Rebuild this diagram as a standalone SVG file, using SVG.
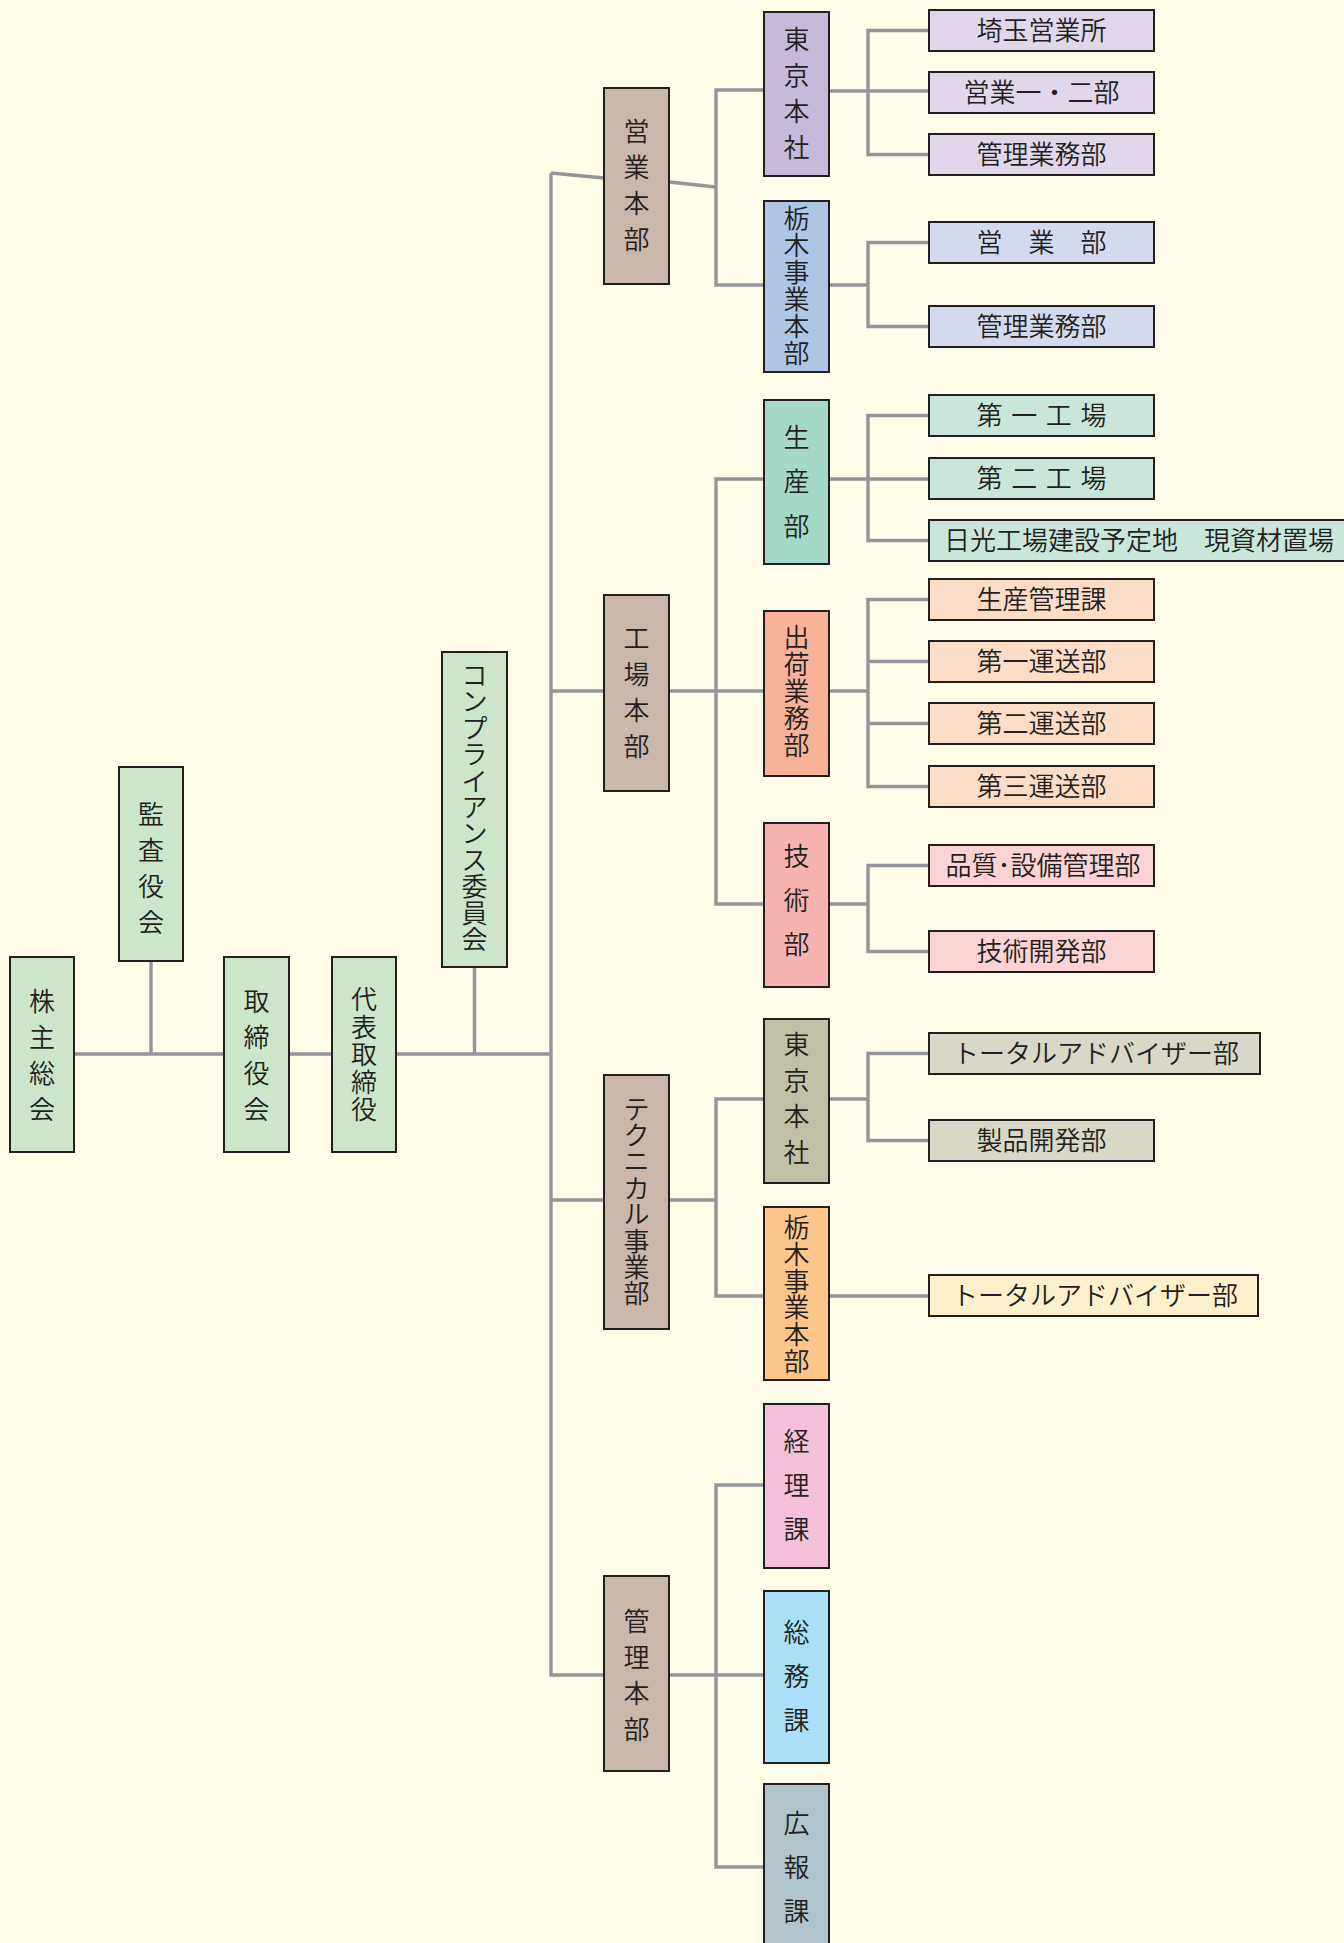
<svg xmlns="http://www.w3.org/2000/svg" width="1344" height="1943" viewBox="0 0 1344 1943">
<style>
.bg{fill:#FFFCEA}
rect.n{stroke:#231F20;stroke-width:2}
.c path{fill:none;stroke:#939598;stroke-width:3.4}
text{font-family:"Noto Sans CJK JP","Noto Sans CJK SC",sans-serif;font-size:26px;font-weight:350;fill:#231F20;dominant-baseline:central}
.v{text-anchor:middle}
.h{text-anchor:middle}
.green{fill:#CDE6CB}.brown{fill:#C9B7AB}
.pur{fill:#C6B9DA}.purL{fill:#E1D6EA}
.blu{fill:#AFC5E6}.bluL{fill:#D4DAEE}
.tea{fill:#A6D8C8}.teaL{fill:#CAE6DB}
.sal{fill:#F8B298}.salL{fill:#FBDCC6}
.pnk{fill:#F7B3B2}.pnkL{fill:#FBD3D5}
.kha{fill:#C2BFA9}.khaL{fill:#D9D7C8}
.org{fill:#FCC68A}.orgL{fill:#FEF0CB}
.kei{fill:#F5C1DA}.som{fill:#A9DFF7}.koh{fill:#B1C3CB}
</style>
<rect class="bg" x="0" y="0" width="1344" height="1943"/>
<g id="connectors" class="c">
<path d="M74 1054H551"/>
<path d="M151 961V1054"/>
<path d="M474.5 967V1054"/>
<path d="M551 173V1675H604"/>
<path d="M551 173L604 178"/>
<path d="M669 182L716 187"/>
<path d="M551 691H604"/>
<path d="M551 1200H604"/>
<path d="M764 90H716V285H764"/>
<path d="M669 691H764"/>
<path d="M764 479H716V904H764"/>
<path d="M669 1200H716"/>
<path d="M764 1099H716V1296H764"/>
<path d="M669 1675H764"/>
<path d="M764 1485H716V1867H764"/>
<path d="M829 91H929"/>
<path d="M929 30.5H868V154.5H929"/>
<path d="M829 285H868"/>
<path d="M929 242.5H868V326.5H929"/>
<path d="M829 479H929"/>
<path d="M929 415.5H868V540.5H929"/>
<path d="M829 691H868"/>
<path d="M929 599.5H868V786.5H929"/>
<path d="M868 661.5H929"/>
<path d="M868 723.5H929"/>
<path d="M829 904H868"/>
<path d="M929 865.5H868V951.5H929"/>
<path d="M829 1099H868"/>
<path d="M929 1053.5H868V1140.5H929"/>
<path d="M829 1296H929"/>
</g>
<g id="n-kabunushi"><rect class="n green" x="10" y="957" width="64" height="195"/><text class="v"><tspan x="42" y="999">株</tspan><tspan x="42" y="1035">主</tspan><tspan x="42" y="1071">総</tspan><tspan x="42" y="1107">会</tspan></text></g>
<g id="n-kansa"><rect class="n green" x="119" y="767" width="64" height="194"/><text class="v"><tspan x="151" y="812">監</tspan><tspan x="151" y="848">査</tspan><tspan x="151" y="884">役</tspan><tspan x="151" y="920">会</tspan></text></g>
<g id="n-torishimariyakukai"><rect class="n green" x="224" y="957" width="65" height="195"/><text class="v"><tspan x="256.5" y="999">取</tspan><tspan x="256.5" y="1035">締</tspan><tspan x="256.5" y="1071">役</tspan><tspan x="256.5" y="1107">会</tspan></text></g>
<g id="n-daihyo"><rect class="n green" x="332" y="957" width="64" height="195"/><text class="v"><tspan x="364" y="997">代</tspan><tspan x="364" y="1024.5">表</tspan><tspan x="364" y="1052">取</tspan><tspan x="364" y="1079.5">締</tspan><tspan x="364" y="1107">役</tspan></text></g>
<g id="n-compliance"><rect class="n green" x="442" y="652" width="65" height="315"/><text class="v"><tspan x="474.5" y="673">コ</tspan><tspan x="474.5" y="699.4">ン</tspan><tspan x="474.5" y="725.8">プ</tspan><tspan x="474.5" y="752.2">ラ</tspan><tspan x="474.5" y="778.6">イ</tspan><tspan x="474.5" y="805">ア</tspan><tspan x="474.5" y="831.4">ン</tspan><tspan x="474.5" y="857.8">ス</tspan><tspan x="474.5" y="884.2">委</tspan><tspan x="474.5" y="910.6">員</tspan><tspan x="474.5" y="937">会</tspan></text></g>
<g id="n-eigyohonbu"><rect class="n brown" x="604" y="88" width="65" height="196"/><text class="v"><tspan x="636.5" y="129">営</tspan><tspan x="636.5" y="165">業</tspan><tspan x="636.5" y="201">本</tspan><tspan x="636.5" y="237">部</tspan></text></g>
<g id="n-kojohonbu"><rect class="n brown" x="604" y="595" width="65" height="196"/><text class="v"><tspan x="636.5" y="636">工</tspan><tspan x="636.5" y="672">場</tspan><tspan x="636.5" y="708">本</tspan><tspan x="636.5" y="744">部</tspan></text></g>
<g id="n-technical"><rect class="n brown" x="604" y="1075" width="65" height="254"/><text class="v"><tspan x="636.5" y="1106.6">テ</tspan><tspan x="636.5" y="1133">ク</tspan><tspan x="636.5" y="1159.4">ニ</tspan><tspan x="636.5" y="1185.8">カ</tspan><tspan x="636.5" y="1212.2">ル</tspan><tspan x="636.5" y="1238.6">事</tspan><tspan x="636.5" y="1265">業</tspan><tspan x="636.5" y="1291.4">部</tspan></text></g>
<g id="n-kanrihonbu"><rect class="n brown" x="604" y="1576" width="65" height="195"/><text class="v"><tspan x="636.5" y="1619">管</tspan><tspan x="636.5" y="1655">理</tspan><tspan x="636.5" y="1691">本</tspan><tspan x="636.5" y="1727">部</tspan></text></g>
<g id="n-tokyo1"><rect class="n pur" x="764" y="12" width="65" height="164"/><text class="v"><tspan x="796.5" y="37">東</tspan><tspan x="796.5" y="73">京</tspan><tspan x="796.5" y="109">本</tspan><tspan x="796.5" y="145">社</tspan></text></g>
<g id="n-tochigi1"><rect class="n blu" x="764" y="201" width="65" height="171"/><text class="v"><tspan x="796.5" y="215.5">栃</tspan><tspan x="796.5" y="242.5">木</tspan><tspan x="796.5" y="269.5">事</tspan><tspan x="796.5" y="296.5">業</tspan><tspan x="796.5" y="323.5">本</tspan><tspan x="796.5" y="350.5">部</tspan></text></g>
<g id="n-seisan"><rect class="n tea" x="764" y="400" width="65" height="164"/><text class="v"><tspan x="796.5" y="434.5">生</tspan><tspan x="796.5" y="479">産</tspan><tspan x="796.5" y="523.5">部</tspan></text></g>
<g id="n-shukka"><rect class="n sal" x="764" y="611" width="65" height="165"/><text class="v"><tspan x="796.5" y="635.4">出</tspan><tspan x="796.5" y="662.2">荷</tspan><tspan x="796.5" y="689">業</tspan><tspan x="796.5" y="715.8">務</tspan><tspan x="796.5" y="742.6">部</tspan></text></g>
<g id="n-gijutsu"><rect class="n pnk" x="764" y="823" width="65" height="164"/><text class="v"><tspan x="796.5" y="854">技</tspan><tspan x="796.5" y="898">術</tspan><tspan x="796.5" y="942">部</tspan></text></g>
<g id="n-tokyo2"><rect class="n kha" x="764" y="1019" width="65" height="164"/><text class="v"><tspan x="796.5" y="1042">東</tspan><tspan x="796.5" y="1078">京</tspan><tspan x="796.5" y="1114">本</tspan><tspan x="796.5" y="1150">社</tspan></text></g>
<g id="n-tochigi2"><rect class="n org" x="764" y="1207" width="65" height="173"/><text class="v"><tspan x="796.5" y="1225">栃</tspan><tspan x="796.5" y="1251.8">木</tspan><tspan x="796.5" y="1278.6">事</tspan><tspan x="796.5" y="1305.4">業</tspan><tspan x="796.5" y="1332.2">本</tspan><tspan x="796.5" y="1359">部</tspan></text></g>
<g id="n-keiri"><rect class="n kei" x="764" y="1404" width="65" height="164"/><text class="v"><tspan x="796.5" y="1439">経</tspan><tspan x="796.5" y="1483">理</tspan><tspan x="796.5" y="1527">課</tspan></text></g>
<g id="n-somu"><rect class="n som" x="764" y="1591" width="65" height="172"/><text class="v"><tspan x="796.5" y="1630">総</tspan><tspan x="796.5" y="1674">務</tspan><tspan x="796.5" y="1718">課</tspan></text></g>
<g id="n-koho"><rect class="n koh" x="764" y="1784" width="65" height="175"/><text class="v"><tspan x="796.5" y="1821">広</tspan><tspan x="796.5" y="1865">報</tspan><tspan x="796.5" y="1909">課</tspan></text></g>
<g id="n-saitama"><rect class="n purL" x="929" y="10" width="225" height="41"/><text class="h" x="1041.5" y="28">埼玉営業所</text></g>
<g id="n-eigyo12"><rect class="n purL" x="929" y="72" width="225" height="41"/><text class="h" x="1041.5" y="90">営業一・二部</text></g>
<g id="n-kanrigyomu1"><rect class="n purL" x="929" y="134" width="225" height="41"/><text class="h" x="1041.5" y="152">管理業務部</text></g>
<g id="n-eigyobu"><rect class="n bluL" x="929" y="222" width="225" height="41"/><text class="h" x="1041.5" y="240">営　業　部</text></g>
<g id="n-kanrigyomu2"><rect class="n bluL" x="929" y="306" width="225" height="41"/><text class="h" x="1041.5" y="324">管理業務部</text></g>
<g id="n-daiichikojo"><rect class="n teaL" x="929" y="395" width="225" height="41"/><text class="h" x="1041.5" y="413" textLength="130" lengthAdjust="spacing">第 一 工 場</text></g>
<g id="n-dainikojo"><rect class="n teaL" x="929" y="458" width="225" height="41"/><text class="h" x="1041.5" y="476" textLength="130" lengthAdjust="spacing">第 二 工 場</text></g>
<g id="n-nikko"><rect class="n teaL" x="929" y="520" width="430" height="41"/><text x="944" y="538">日光工場建設予定地　現資材置場</text></g>
<g id="n-seisankanri"><rect class="n salL" x="929" y="579" width="225" height="41"/><text class="h" x="1041.5" y="597">生産管理課</text></g>
<g id="n-unso1"><rect class="n salL" x="929" y="641" width="225" height="41"/><text class="h" x="1041.5" y="659">第一運送部</text></g>
<g id="n-unso2"><rect class="n salL" x="929" y="703" width="225" height="41"/><text class="h" x="1041.5" y="721">第二運送部</text></g>
<g id="n-unso3"><rect class="n salL" x="929" y="766" width="225" height="41"/><text class="h" x="1041.5" y="784">第三運送部</text></g>
<g id="n-hinshitsu"><rect class="n pnkL" x="929" y="845" width="225" height="41"/><text class="h" x="1043" y="863">品質･設備管理部</text></g>
<g id="n-gijutsukaihatsu"><rect class="n pnkL" x="929" y="931" width="225" height="41"/><text class="h" x="1041.5" y="949">技術開発部</text></g>
<g id="n-total1"><rect class="n khaL" x="929" y="1033" width="331" height="41"/><text class="h" x="1096" y="1051">トータルアドバイザー部</text></g>
<g id="n-seihin"><rect class="n khaL" x="929" y="1120" width="225" height="41"/><text class="h" x="1041.5" y="1138">製品開発部</text></g>
<g id="n-total2"><rect class="n orgL" x="929" y="1275" width="329" height="41"/><text class="h" x="1095" y="1293">トータルアドバイザー部</text></g>
</svg>
